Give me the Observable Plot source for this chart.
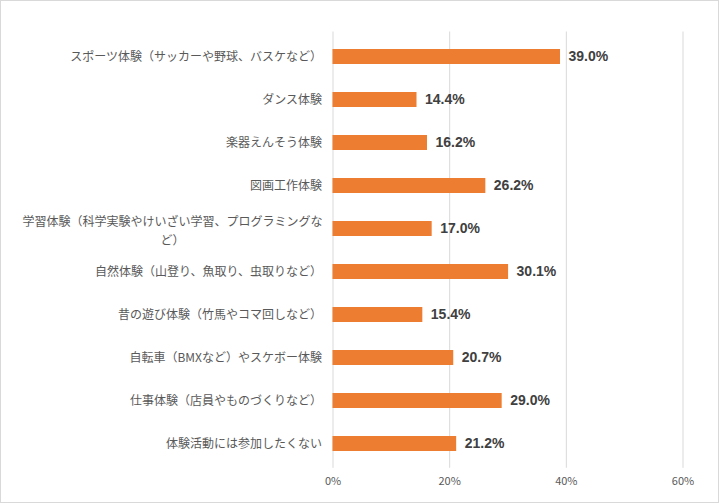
<!DOCTYPE html>
<html>
<head>
<meta charset="utf-8">
<script src="https://cdn.jsdelivr.net/npm/d3@7"></script>
<script src="https://cdn.jsdelivr.net/npm/@observablehq/plot@0.6"></script>
<style>
  html, body { margin: 0; padding: 0; background: #fff; }
  #wrap { position: relative; width: 719px; height: 503px; }
  #border { position: absolute; left: 0; top: 0; width: 719px; height: 503px; box-sizing: border-box; border: 1px solid #d9d9d9; pointer-events: none; }
</style>
</head>
<body>
<div id="wrap"><div id="chart"></div><div id="border"></div></div>
<script>
const categories = [
  "スポーツ体験（サッカーや野球、バスケなど）",
  "ダンス体験",
  "楽器えんそう体験",
  "図画工作体験",
  "学習体験（科学実験やけいざい学習、プログラミングなど）",
  "自然体験（山登り、魚取り、虫取りなど）",
  "昔の遊び体験（竹馬やコマ回しなど）",
  "自転車（BMXなど）やスケボー体験",
  "仕事体験（店員やものづくりなど）",
  "体験活動には参加したくない"
];
const values = [39.0, 14.4, 16.2, 26.2, 17.0, 30.1, 15.4, 20.7, 29.0, 21.2];
const xTicks = [0, 20, 40, 60];
const wrappedCategory = "学習体験（科学実験やけいざい学習、プログラミングなど）";
const wrappedText = "学習体験（科学実験やけいざい学習、プログラミングな\nど）";

const data = categories.map((c, i) => ({category: c, value: values[i]}));
const singleLine = categories.filter(c => c !== wrappedCategory);

const font = "'Noto Sans CJK JP', 'Noto Sans', sans-serif";

const chart = Plot.plot({
  width: 719,
  height: 503,
  marginLeft: 332.5,
  marginRight: 36.5,
  marginTop: 31.5,
  marginBottom: 35.2,
  style: {fontFamily: font, background: "transparent"},
  x: {domain: [0, 60], label: null},
  y: {domain: categories, paddingInner: 0.65, paddingOuter: 0.325, align: 0.5, label: null},
  marks: [
    Plot.gridX(xTicks, {stroke: "#d9d9d9", strokeOpacity: 1, strokeWidth: 1}),
    Plot.barX(data, {x: "value", y: "category", fill: "#ed7d31"}),
    Plot.text(data, {
      x: "value", y: "category", text: d => d.value.toFixed(1) + "%",
      dx: 8, textAnchor: "start", fontWeight: "bold", fontSize: 14,
      fill: "#404040", fontFamily: "'Liberation Sans', 'Noto Sans', sans-serif"
    }),
    Plot.axisX(xTicks, {
      tickSize: 0, tickPadding: 9, tickFormat: d => d + "%", label: null,
      fontSize: 11, fill: "#595959"
    }),
    Plot.axisY(singleLine, {
      tickSize: 0, tickPadding: 11, label: null, fontSize: 12, fill: "#595959"
    }),
    Plot.text([wrappedCategory], {
      y: d => d, text: () => wrappedText, frameAnchor: "left", dx: -160.5,
      textAnchor: "middle", lineHeight: 1.6, fontSize: 12, fill: "#595959"
    })
  ]
});
document.getElementById("chart").appendChild(chart);
</script>
</body>
</html>
